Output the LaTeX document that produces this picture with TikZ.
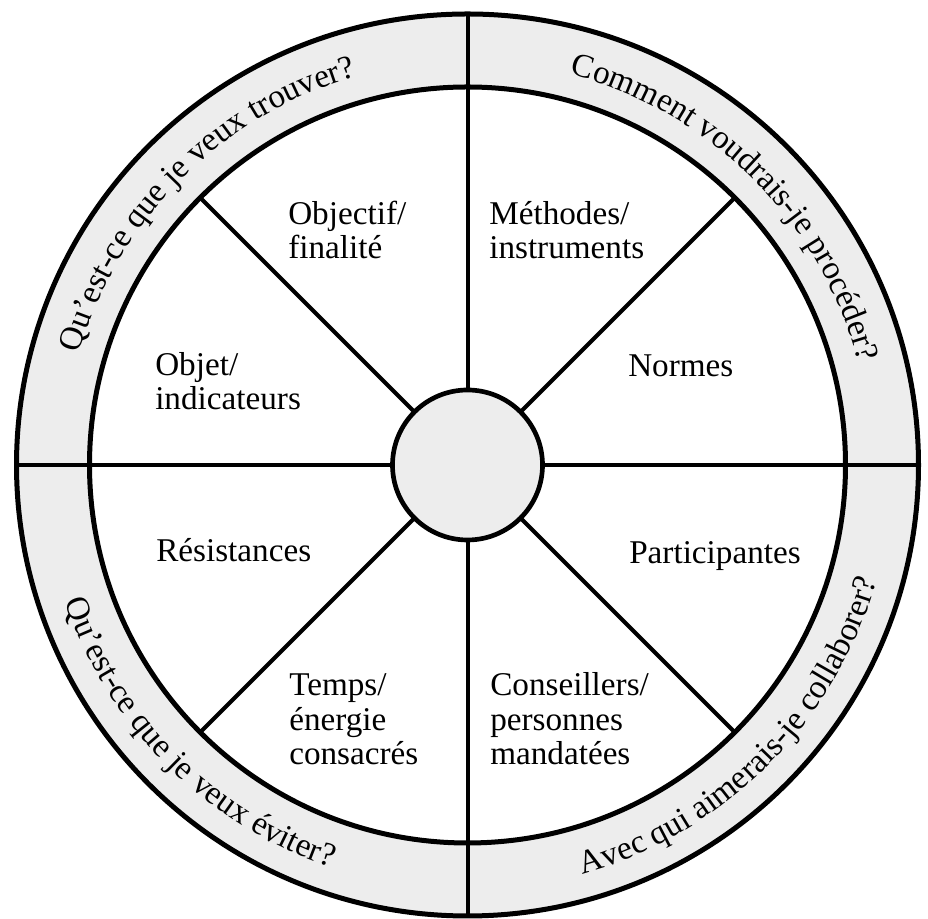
\documentclass[tikz,border=0pt]{standalone}
\usepackage{fontspec}
\setmainfont{Liberation Serif}
\usetikzlibrary{decorations.text}
\definecolor{ringgray}{RGB}{237,237,237}
\newcommand\wheelfont{\fontsize{24.9}{26}\selectfont}
\tikzset{
  wheelline/.style={line width=3.75pt},
  spokeline/.style={line width=3pt},
  % multi-line labels sit on the baseline of their last line
  sectorlabel/.style={anchor=base west, align=left, inner sep=0pt, font=\wheelfont},
  ringtext/.style={decorate, decoration={text along path, text align=center,
      text={|\wheelfont|#1}}},
}
\begin{document}
\begin{tikzpicture}[x=0.75pt,y=0.75pt]
\useasboundingbox (0,0) rectangle (928,919);
\coordinate (c) at (467.5,454);

% grey outer ring
\fill[ringgray, even odd rule] (c) circle[radius=451] (c) circle[radius=378];

% spokes: the four axes cross the ring, the diagonals stop at the inner circle
\foreach \a in {0,90,180,270}
  \draw[spokeline] (c) ++(\a:75) coordinate (s\a) -- ++(\a:376) coordinate (e\a);
\foreach \a in {45,135,225,315}
  \draw[spokeline] (c) ++(\a:75) coordinate (s\a) -- ++(\a:303) coordinate (e\a);

% ring outlines
\draw[wheelline] (c) circle[radius=451];
\draw[wheelline] (c) circle[radius=378];

% hub
\filldraw[fill=ringgray, line width=3.5pt] (c) circle[radius=75];

% questions written along the ring
\path[ringtext={Qu’est-ce que je veux trouver?}]
  (c) ++(180:404) arc[start angle=180, end angle=90, radius=404];
\path[ringtext={Comment voudrais-je procéder?}]
  (c) ++(90:404) arc[start angle=90, end angle=0, radius=404];
\path[ringtext={Qu’est-ce que je veux éviter?}]
  (c) ++(180:425) arc[start angle=180, end angle=270, radius=425];
\path[ringtext={Avec qui aimerais-je collaborer?}]
  (c) ++(270:425) arc[start angle=270, end angle=360, radius=425];

% sector labels
\node[sectorlabel] (objectif) at (288,660) {Objectif/\\finalité};
\node[sectorlabel] (objet) at (155,509) {Objet/\\indicateurs};
\node[sectorlabel] (methodes) at (489,660) {Méthodes/\\instruments};
\node[sectorlabel] (normes) at (628,542) {Normes};
\node[sectorlabel] (resistances) at (156,357) {Résistances};
\node[sectorlabel] (participantes) at (629,355) {Participantes};
\node[sectorlabel] (temps) at (289,154) {Temps/\\énergie\\consacrés};
\node[sectorlabel] (conseillers) at (490,154) {Conseillers/\\personnes\\mandatées};
\end{tikzpicture}
\end{document}
